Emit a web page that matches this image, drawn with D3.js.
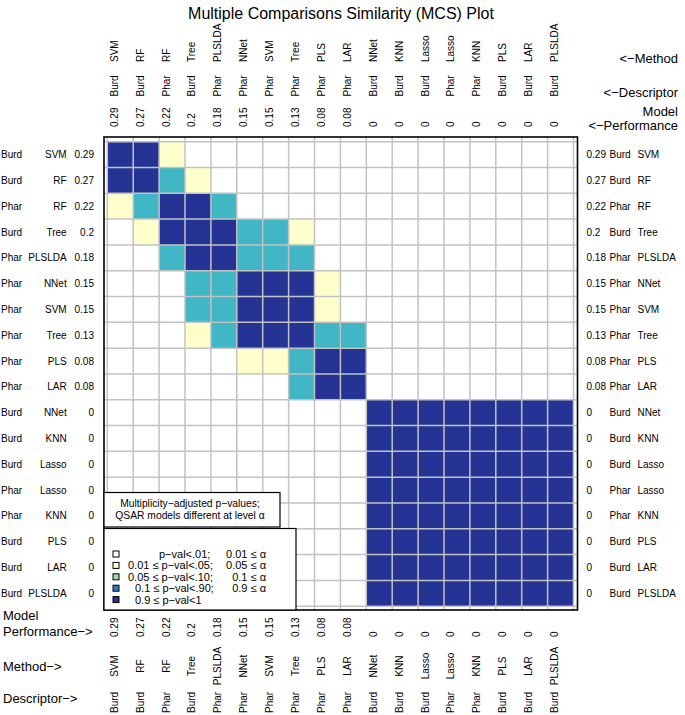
<!DOCTYPE html>
<html>
<head>
<meta charset="utf-8">
<script src="https://cdn.jsdelivr.net/npm/d3@7"></script>
<style>
  body { margin: 0; background: #fff; }
  svg { display: block; font-family: "Liberation Sans", Arial, sans-serif; }
</style>
</head>
<body>
<svg id="mcs-plot" width="685" height="715"></svg>
<script>
// model labels, in plot order
const descriptors = ["Burd", "Burd", "Phar", "Burd", "Phar", "Phar", "Phar", "Phar", "Phar", "Phar",
    "Burd", "Burd", "Burd", "Phar", "Phar", "Burd", "Burd", "Burd"];
const methods = ["SVM", "RF", "RF", "Tree", "PLSLDA", "NNet", "SVM", "Tree", "PLS", "LAR",
    "NNet", "KNN", "Lasso", "Lasso", "KNN", "PLS", "LAR", "PLSLDA"];
const performance = [0.29, 0.27, 0.22, 0.2, 0.18, 0.15, 0.15, 0.13, 0.08, 0.08,
    0, 0, 0, 0, 0, 0, 0, 0];

// p-value class of each pair: 0 p<.01, 1 .01-.05, 2 .05-.10, 3 .10-.90, 4 >=.90
const pClass = [
    [4, 4, 1, 0, 0, 0, 0, 0, 0, 0, 0, 0, 0, 0, 0, 0, 0, 0],
    [4, 4, 3, 1, 0, 0, 0, 0, 0, 0, 0, 0, 0, 0, 0, 0, 0, 0],
    [1, 3, 4, 4, 3, 0, 0, 0, 0, 0, 0, 0, 0, 0, 0, 0, 0, 0],
    [0, 1, 4, 4, 4, 3, 3, 1, 0, 0, 0, 0, 0, 0, 0, 0, 0, 0],
    [0, 0, 3, 4, 4, 3, 3, 3, 0, 0, 0, 0, 0, 0, 0, 0, 0, 0],
    [0, 0, 0, 3, 3, 4, 4, 4, 1, 0, 0, 0, 0, 0, 0, 0, 0, 0],
    [0, 0, 0, 3, 3, 4, 4, 4, 1, 0, 0, 0, 0, 0, 0, 0, 0, 0],
    [0, 0, 0, 1, 3, 4, 4, 4, 3, 3, 0, 0, 0, 0, 0, 0, 0, 0],
    [0, 0, 0, 0, 0, 1, 1, 3, 4, 4, 0, 0, 0, 0, 0, 0, 0, 0],
    [0, 0, 0, 0, 0, 0, 0, 3, 4, 4, 0, 0, 0, 0, 0, 0, 0, 0],
    [0, 0, 0, 0, 0, 0, 0, 0, 0, 0, 4, 4, 4, 4, 4, 4, 4, 4],
    [0, 0, 0, 0, 0, 0, 0, 0, 0, 0, 4, 4, 4, 4, 4, 4, 4, 4],
    [0, 0, 0, 0, 0, 0, 0, 0, 0, 0, 4, 4, 4, 4, 4, 4, 4, 4],
    [0, 0, 0, 0, 0, 0, 0, 0, 0, 0, 4, 4, 4, 4, 4, 4, 4, 4],
    [0, 0, 0, 0, 0, 0, 0, 0, 0, 0, 4, 4, 4, 4, 4, 4, 4, 4],
    [0, 0, 0, 0, 0, 0, 0, 0, 0, 0, 4, 4, 4, 4, 4, 4, 4, 4],
    [0, 0, 0, 0, 0, 0, 0, 0, 0, 0, 4, 4, 4, 4, 4, 4, 4, 4],
    [0, 0, 0, 0, 0, 0, 0, 0, 0, 0, 4, 4, 4, 4, 4, 4, 4, 4]
];

const legendPval = ["p\u2212val<.01;", "0.01 \u2264 p\u2212val<.05;", "0.05 \u2264 p\u2212val<.10;",
    "0.1 \u2264 p\u2212val<.90;", "0.9 \u2264 p\u2212val<1"];
const legendAlpha = ["0.01 \u2264 \u03b1", "0.05 \u2264 \u03b1", "0.1 \u2264 \u03b1", "0.9 \u2264 \u03b1", ""];

const cellColors = ["#ffffff", "#ffffcc", "#a1dab4", "#41b6c4", "#253494"];
const legendColors = ["#ffffff", "#ffffcc", "#a1dab4", "#2c7fb8", "#253494"];

const svg = d3.select("#mcs-plot");
const n = methods.length;
const idx = d3.range(n);

const box = { left: 104, top: 137, right: 577.5, bottom: 610 };

const x = d3.scaleBand().domain(idx).range([107.3, 573.5]);
const y = d3.scaleBand().domain(idx).range([141.7, 606.2]);
const fill = d3.scaleOrdinal().domain(d3.range(5)).range(cellColors);

svg.append("text")
    .attr("x", 341)
    .attr("y", 19)
    .attr("text-anchor", "middle")
    .style("font-size", "16px")
    .text("Multiple Comparisons Similarity (MCS) Plot");

// cells
const cells = [];
pClass.forEach((row, i) => row.forEach((v, j) => cells.push({ i, j, v })));

svg.append("g")
    .selectAll("rect")
    .data(cells)
    .enter().append("rect")
    .attr("x", d => x(d.j))
    .attr("y", d => y(d.i))
    .attr("width", x.bandwidth())
    .attr("height", y.bandwidth())
    .attr("fill", d => fill(d.v));

// grid lines
const grid = svg.append("g")
    .attr("stroke", "#c2c2c2")
    .attr("stroke-width", 1.5);

grid.selectAll(".vline")
    .data(d3.range(n + 1))
    .enter().append("line")
    .attr("x1", k => x.range()[0] + k * x.step())
    .attr("x2", k => x.range()[0] + k * x.step())
    .attr("y1", box.top)
    .attr("y2", box.bottom);

grid.selectAll(".hline")
    .data(d3.range(n + 1))
    .enter().append("line")
    .attr("y1", k => y.range()[0] + k * y.step())
    .attr("y2", k => y.range()[0] + k * y.step())
    .attr("x1", box.left)
    .attr("x2", box.right);

svg.append("rect")
    .attr("x", box.left)
    .attr("y", box.top)
    .attr("width", box.right - box.left)
    .attr("height", box.bottom - box.top)
    .attr("fill", "none")
    .attr("stroke", "#000")
    .attr("stroke-width", 1.6);

// left labels
const left = svg.append("g").style("font-size", "10px");
idx.forEach(i => {
    const cy = y(i) + y.bandwidth() / 2 + 3.6;
    left.append("text").attr("x", 1).attr("y", cy).text(descriptors[i]);
    left.append("text").attr("x", 66.7).attr("y", cy).attr("text-anchor", "end").text(methods[i]);
    left.append("text").attr("x", 94).attr("y", cy).attr("text-anchor", "end").text(performance[i]);
});

// right labels
const right = svg.append("g").style("font-size", "10px");
idx.forEach(i => {
    const cy = y(i) + y.bandwidth() / 2 + 3.6;
    right.append("text").attr("x", 586.5).attr("y", cy).text(performance[i]);
    right.append("text").attr("x", 609.5).attr("y", cy).text(descriptors[i]);
    right.append("text").attr("x", 637.5).attr("y", cy).text(methods[i]);
});

// vertical column labels, top and bottom
function colLabels(rows) {
    const g = svg.append("g").style("font-size", "10px");
    rows.forEach(r => {
        g.selectAll(null)
            .data(idx)
            .enter().append("text")
            .attr("text-anchor", r.anchor || "start")
            .attr("transform", j => `translate(${x(j) + x.bandwidth() / 2 - 2.5},${r.y}) rotate(-90)`)
            .text(j => r.values[j]);
    });
}
colLabels([
    { y: 62, values: methods },
    { y: 96.5, values: descriptors },
    { y: 127, values: performance }
]);
colLabels([
    { y: 637, values: performance },
    { y: 666, values: methods, anchor: "middle" },
    { y: 713, values: descriptors }
]);

// axis captions
const cap = svg.append("g").style("font-size", "13px");
cap.append("text").attr("x", 678).attr("y", 63).attr("text-anchor", "end").text("<\u2212Method");
cap.append("text").attr("x", 678).attr("y", 97).attr("text-anchor", "end").text("<\u2212Descriptor");
cap.append("text").attr("x", 678).attr("y", 116).attr("text-anchor", "end").text("Model");
cap.append("text").attr("x", 678).attr("y", 130).attr("text-anchor", "end").text("<\u2212Performance");
cap.append("text").attr("x", 3).attr("y", 620).text("Model");
cap.append("text").attr("x", 3).attr("y", 636).text("Performance\u2212>");
cap.append("text").attr("x", 3).attr("y", 671).text("Method\u2212>");
cap.append("text").attr("x", 3).attr("y", 703).text("Descriptor\u2212>");

// legend
const lg = svg.append("g");
lg.append("rect")
    .attr("x", 104).attr("y", 492.5).attr("width", 176).attr("height", 34.5)
    .attr("fill", "#fff").attr("stroke", "#000").attr("stroke-width", 1.2);
lg.append("text").attr("x", 190).attr("y", 507).attr("text-anchor", "middle")
    .style("font-size", "10.3px").text("Multiplicity\u2212adjusted p\u2212values;");
lg.append("text").attr("x", 190).attr("y", 519).attr("text-anchor", "middle")
    .style("font-size", "10.3px").text("QSAR models different at level \u03b1");

lg.append("rect")
    .attr("x", 104).attr("y", 528.5).attr("width", 192).attr("height", 81.5)
    .attr("fill", "#fff").attr("stroke", "#000").attr("stroke-width", 1.2);

const pvalX = [159, 128, 128, 135, 135];
legendPval.forEach((t, k) => {
    const cy = 554 + k * 11.4;
    lg.append("rect")
        .attr("x", 113).attr("y", cy - 3).attr("width", 6).attr("height", 6)
        .attr("fill", legendColors[k]).attr("stroke", "#000").attr("stroke-width", 1);
    lg.append("text").attr("x", pvalX[k]).attr("y", cy + 4)
        .style("font-size", "11px").text(t);
    lg.append("text").attr("x", 266).attr("y", cy + 4).attr("text-anchor", "end")
        .style("font-size", "11px").text(legendAlpha[k]);
});
</script>
</body>
</html>
